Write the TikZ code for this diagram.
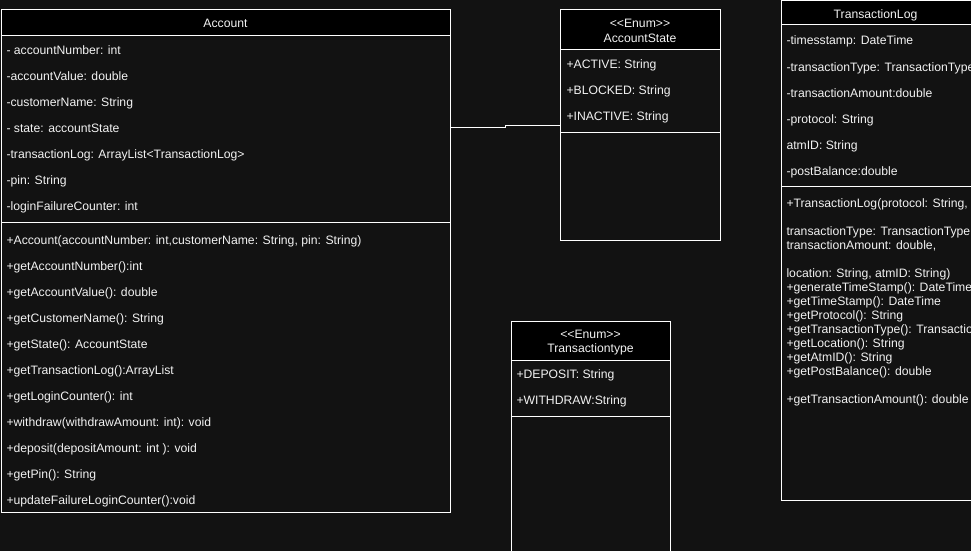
\documentclass[tikz,border=0pt]{standalone}
\usepackage{fontspec}
\setmainfont{Liberation Sans}
\definecolor{bg}{HTML}{121212}
\definecolor{fg}{HTML}{F2F2F2}
\begin{document}
\begin{tikzpicture}[x=1pt,y=-1pt,line width=1pt,
  classbox/.style={draw=white,fill=bg,inner sep=0pt,outer sep=0pt,anchor=north west},
  headbox/.style={draw=white,fill=black,inner sep=0pt,outer sep=0pt,anchor=north west},
  title/.style={text=fg,inner sep=0pt,anchor=base,font=\fontsize{12.2}{14}\selectfont},
  row/.style={text=fg,inner sep=0pt,anchor=base west,font=\fontsize{12.2}{14}\selectfont},
  divider/.style={draw=white},
  link/.style={draw=white}]
\useasboundingbox (0,0) rectangle (971,551);
\clip (0,0) rectangle (971,551);
\fill[bg] (0,0) rectangle (971,551);

% ---------- Account ----------
\node[classbox,minimum width=449pt,minimum height=502pt] (account) at (1,10) {};
\node[headbox,minimum width=449pt,minimum height=26pt] (accounthead) at (1,10) {};
\node[title] (accounttitle) at (225.5,28) {Account};
\draw[divider] (1,222) -- (450,222);
\node[row] (a1) at (6,54.5) {- accountNumber: int};
\node[row] (a2) at (6,80.5) {-accountValue: double};
\node[row] (a3) at (6,106.5) {-customerName: String};
\node[row] (a4) at (6,132.5) {- state: accountState};
\node[row] (a5) at (6,158.5) {-transactionLog: ArrayList<TransactionLog>};
\node[row] (a6) at (6,184.5) {-pin: String};
\node[row] (a7) at (6,210.5) {-loginFailureCounter: int};
\node[row] (m1) at (6,244) {+Account(accountNumber: int,customerName: String, pin: String)};
\node[row] (m2) at (6,270) {+getAccountNumber():int};
\node[row] (m3) at (6,296) {+getAccountValue(): double};
\node[row] (m4) at (6,322) {+getCustomerName(): String};
\node[row] (m5) at (6,348) {+getState(): AccountState};
\node[row] (m6) at (6,374) {+getTransactionLog():ArrayList};
\node[row] (m7) at (6,400) {+getLoginCounter(): int};
\node[row] (m8) at (6,426) {+withdraw(withdrawAmount: int): void};
\node[row] (m9) at (6,452) {+deposit(depositAmount: int ): void};
\node[row] (m10) at (6,478) {+getPin(): String};
\node[row] (m11) at (6,504) {+updateFailureLoginCounter():void};

% ---------- AccountState ----------
\node[classbox,minimum width=160pt,minimum height=230pt] (astate) at (560,10) {};
\node[headbox,minimum width=160pt,minimum height=40pt] (astatehead) at (560,10) {};
\node[title] (astatest) at (640,28) {<{}<Enum>{}>};
\node[title] (astatetitle) at (640,42) {AccountState};
\draw[divider] (560,132) -- (720,132);
\node[row] (s1) at (566,68) {+ACTIVE: String};
\node[row] (s2) at (566,94) {+BLOCKED: String};
\node[row] (s3) at (566,120) {+INACTIVE: String};

% ---------- Transactiontype ----------
\node[classbox,minimum width=159pt,minimum height=239pt] (ttype) at (511,321) {};
\node[headbox,minimum width=159pt,minimum height=39pt] (ttypehead) at (511,321) {};
\node[title] (ttypest) at (590.5,338) {<{}<Enum>{}>};
\node[title] (ttypetitle) at (590.5,352) {Transactiontype};
\draw[divider] (511,416) -- (670,416);
\node[row] (t1) at (516,378) {+DEPOSIT: String};
\node[row] (t2) at (516,404) {+WITHDRAW:String};

% ---------- TransactionLog ----------
\node[classbox,minimum width=199pt,minimum height=499.5pt] (tlog) at (781,0.5) {};
\node[headbox,minimum width=199pt,minimum height=24.5pt] (tloghead) at (781,0.5) {};
\node[title] (tlogtitle) at (875.5,19) {TransactionLog};
\draw[divider] (781,186) -- (980,186);
\node[row] (l1) at (786,45) {-timesstamp: DateTime};
\node[row] (l2) at (786,71) {-transactionType: TransactionType};
\node[row] (l3) at (786,97) {-transactionAmount:double};
\node[row] (l4) at (786,123) {-protocol: String};
\node[row] (l5) at (786,149) {atmID: String};
\node[row] (l6) at (786,175) {-postBalance:double};
\node[row] (lm1) at (786,207) {+TransactionLog(protocol: String,};
\node[row] (lm2) at (786,235) {transactionType: TransactionType,};
\node[row] (lm3) at (786,249) {transactionAmount: double,};
\node[row] (lm4) at (786,277) {location: String, atmID: String)};
\node[row] (lm5) at (786,291) {+generateTimeStamp(): DateTime};
\node[row] (lm6) at (786,305) {+getTimeStamp(): DateTime};
\node[row] (lm7) at (786,319) {+getProtocol(): String};
\node[row] (lm8) at (786,333) {+getTransactionType(): TransactionType};
\node[row] (lm9) at (786,347) {+getLocation(): String};
\node[row] (lm10) at (786,361) {+getAtmID(): String};
\node[row] (lm11) at (786,375) {+getPostBalance(): double};
\node[row] (lm12) at (786,403) {+getTransactionAmount(): double};

% ---------- connector ----------
\draw[link] ([yshift=133.5pt]account.east) -- ++(55,0) |- ([yshift=-0.5pt]astate.west);
\end{tikzpicture}
\end{document}
